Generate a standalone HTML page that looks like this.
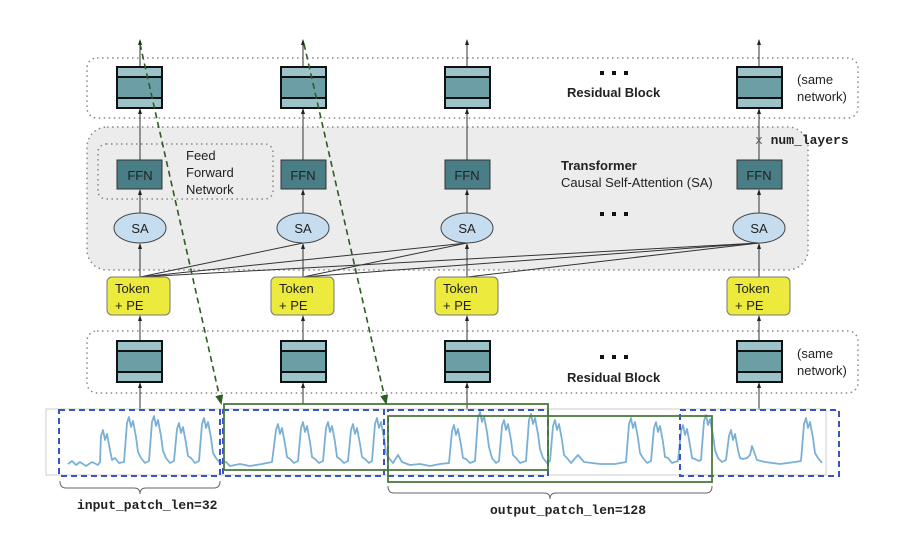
<!DOCTYPE html>
<html><head><meta charset="utf-8"><style>
html,body{margin:0;padding:0;background:#fff;}
svg{display:block;font-family:"Liberation Sans",sans-serif;}
.mono{font-family:"Liberation Mono",monospace;font-weight:bold;}
</style></head><body>
<svg width="911" height="559" viewBox="0 0 911 559" xmlns="http://www.w3.org/2000/svg">
<defs>
<marker id="a" markerUnits="userSpaceOnUse" markerWidth="6" markerHeight="6" refX="5" refY="3" orient="auto"><path d="M0,1 L6,3 L0,5 z" fill="#222"/></marker>
<marker id="g" markerUnits="userSpaceOnUse" markerWidth="10" markerHeight="10" refX="8" refY="5" orient="auto"><path d="M0,1 L10,5 L0,9 z" fill="#2e5e22"/></marker>
<g id="blk">
<rect x="0" y="0" width="45" height="41" fill="#6c9ea5" stroke="#111" stroke-width="2"/>
<rect x="1" y="1" width="43" height="9" fill="#9cc3c7"/>
<rect x="1" y="31" width="43" height="9" fill="#9cc3c7"/>
<line x1="0" y1="10" x2="45" y2="10" stroke="#111" stroke-width="2"/>
<line x1="0" y1="31" x2="45" y2="31" stroke="#111" stroke-width="2"/>
</g>
</defs>

<rect x="87" y="58" width="771" height="60" rx="10" fill="none" stroke="#888" stroke-width="1.5" stroke-dasharray="1.5,3.5"/>
<rect x="87" y="127" width="721" height="143" rx="20" fill="#ececec" stroke="#888" stroke-width="1.5" stroke-dasharray="1.5,3.5"/>
<rect x="98" y="144" width="175" height="55" rx="8" fill="none" stroke="#888" stroke-width="1.5" stroke-dasharray="1.5,3.5"/>
<rect x="87" y="331" width="771" height="62" rx="10" fill="none" stroke="#888" stroke-width="1.5" stroke-dasharray="1.5,3.5"/>

<g stroke="#333" stroke-width="1" fill="none">
<line x1="140" y1="277" x2="303" y2="243"/>
<line x1="140" y1="277" x2="467" y2="243"/>
<line x1="140" y1="277" x2="759" y2="243"/>
<line x1="303" y1="277" x2="467" y2="243"/>
<line x1="303" y1="277" x2="759" y2="243"/>
<line x1="467" y1="277" x2="759" y2="243"/>
</g>

<g stroke="#333" stroke-width="1" marker-end="url(#a)">
<line x1="140" y1="67" x2="140" y2="40"/><line x1="303" y1="67" x2="303" y2="40"/><line x1="467" y1="67" x2="467" y2="40"/><line x1="759" y1="67" x2="759" y2="40"/>
<line x1="140" y1="160" x2="140" y2="109"/><line x1="303" y1="160" x2="303" y2="109"/><line x1="467" y1="160" x2="467" y2="109"/><line x1="759" y1="160" x2="759" y2="109"/>
<line x1="140" y1="213" x2="140" y2="190"/><line x1="303" y1="213" x2="303" y2="190"/><line x1="467" y1="213" x2="467" y2="190"/><line x1="759" y1="213" x2="759" y2="190"/>
<line x1="140" y1="277" x2="140" y2="244"/><line x1="303" y1="277" x2="303" y2="244"/><line x1="467" y1="277" x2="467" y2="244"/><line x1="759" y1="277" x2="759" y2="244"/>
<line x1="140" y1="341" x2="140" y2="316"/><line x1="303" y1="341" x2="303" y2="316"/><line x1="467" y1="341" x2="467" y2="316"/><line x1="759" y1="341" x2="759" y2="316"/>
<line x1="140" y1="409" x2="140" y2="383"/><line x1="303" y1="404" x2="303" y2="383"/><line x1="467" y1="410" x2="467" y2="383"/><line x1="759" y1="410" x2="759" y2="383"/>
</g>

<use href="#blk" x="117" y="67"/><use href="#blk" x="281" y="67"/><use href="#blk" x="445" y="67"/><use href="#blk" x="737" y="67"/>
<use href="#blk" x="117" y="341"/><use href="#blk" x="281" y="341"/><use href="#blk" x="445" y="341"/><use href="#blk" x="737" y="341"/>

<g font-size="13" fill="#222" text-anchor="middle">
<rect x="117" y="160" width="45" height="29" fill="#4a7e87" stroke="#333"/><text x="140" y="180">FFN</text>
<rect x="281" y="160" width="45" height="29" fill="#4a7e87" stroke="#333"/><text x="303" y="180">FFN</text>
<rect x="445" y="160" width="45" height="29" fill="#4a7e87" stroke="#333"/><text x="467" y="180">FFN</text>
<rect x="737" y="160" width="45" height="29" fill="#4a7e87" stroke="#333"/><text x="759" y="180">FFN</text>
<ellipse cx="140" cy="228" rx="26" ry="15" fill="#c6dcef" stroke="#444"/><text x="140" y="233">SA</text>
<ellipse cx="303" cy="228" rx="26" ry="15" fill="#c6dcef" stroke="#444"/><text x="303" y="233">SA</text>
<ellipse cx="467" cy="228" rx="26" ry="15" fill="#c6dcef" stroke="#444"/><text x="467" y="233">SA</text>
<ellipse cx="759" cy="228" rx="26" ry="15" fill="#c6dcef" stroke="#444"/><text x="759" y="233">SA</text>
</g>
<g font-size="13" fill="#222">
<rect x="107" y="277" width="63" height="38" rx="5" fill="#ecea3c" stroke="#777"/><text x="115" y="293">Token</text><text x="115" y="310">+ PE</text>
<rect x="271" y="277" width="63" height="38" rx="5" fill="#ecea3c" stroke="#777"/><text x="279" y="293">Token</text><text x="279" y="310">+ PE</text>
<rect x="435" y="277" width="63" height="38" rx="5" fill="#ecea3c" stroke="#777"/><text x="443" y="293">Token</text><text x="443" y="310">+ PE</text>
<rect x="727" y="277" width="63" height="38" rx="5" fill="#ecea3c" stroke="#777"/><text x="735" y="293">Token</text><text x="735" y="310">+ PE</text>
</g>

<g font-size="13" fill="#222">
<text x="186" y="160">Feed</text><text x="186" y="177">Forward</text><text x="186" y="194">Network</text>
<text x="561" y="170" font-weight="bold">Transformer</text>
<text x="561" y="187">Causal Self-Attention (SA)</text>
<text x="567" y="97" font-weight="bold">Residual Block</text>
<text x="567" y="382" font-weight="bold">Residual Block</text>
<text x="797" y="84">(same</text><text x="797" y="101">network)</text>
<text x="797" y="358">(same</text><text x="797" y="375">network)</text>
<text x="755" y="144" font-size="13"><tspan font-family="Liberation Mono" fill="#666">x </tspan><tspan class="mono">num_layers</tspan></text>
</g>
<g fill="#111">
<rect x="600" y="71" width="4" height="4"/><rect x="612" y="71" width="4" height="4"/><rect x="624" y="71" width="4" height="4"/>
<rect x="600" y="212" width="4" height="4"/><rect x="612" y="212" width="4" height="4"/><rect x="624" y="212" width="4" height="4"/>
<rect x="600" y="355" width="4" height="4"/><rect x="612" y="355" width="4" height="4"/><rect x="624" y="355" width="4" height="4"/>
</g>

<rect x="46" y="409" width="780" height="66" fill="none" stroke="#ccc"/>
<path fill="none" stroke="#7ab0d6" stroke-width="1.8" stroke-linejoin="round" d="M68,464 L72,461 L76,465 L80,462 L86,466 L92,462 L98,465 L100,462
L101,436 L103,430 L105,440 L107,434 L110,450 L112,460 L115,458 L119,463 L124,462
L127,423 L129,417 L131,427 L133,421 L136,437 L138,452 L141,458 L145,463 L149,461
L152,422 L154,416 L156,426 L158,420 L161,436 L163,451 L166,458 L170,463 L174,461
L177,429 L179,423 L181,433 L183,427 L186,443 L188,456 L191,458 L195,463 L199,461
L202,424 L204,418 L206,428 L208,422 L211,438 L213,453 L216,458 L220,463
L226,462 L230,466 L240,464 L250,466 L262,464 L272,462
L276,430 L278,424 L280,434 L282,428 L285,444 L287,457 L290,459 L294,463 L298,461
L301,428 L303,422 L305,432 L307,426 L310,442 L312,457 L315,459 L319,463 L323,461
L326,428 L328,422 L330,432 L332,426 L335,442 L337,457 L340,459 L344,463 L348,461
L351,430 L353,424 L355,434 L357,428 L360,444 L362,457 L365,459 L369,463 L372,461
L375,424 L377,418 L379,428 L381,422 L384,438 L386,453 L389,458 L393,463
L398,455 L402,462 L410,465 L420,464 L430,466 L440,464 L449,463
L452,431 L454,425 L456,435 L458,429 L461,445 L463,458 L466,459 L470,463 L475,461
L478,418 L480,412 L482,422 L484,416 L487,432 L489,447 L492,458 L496,463 L499,461
L502,426 L504,420 L506,430 L508,424 L511,440 L513,455 L516,458 L520,463 L526,461
L529,420 L531,414 L533,424 L535,418 L538,434 L540,449 L543,458 L547,463 L550,461
L553,426 L555,420 L557,430 L559,424 L562,440 L564,455 L567,458 L571,463
L578,455 L584,462 L600,464 L615,464 L626,462
L629,424 L631,418 L633,428 L635,422 L638,438 L640,453 L643,458 L647,463 L651,461
L654,428 L656,422 L658,432 L660,426 L663,442 L665,457 L668,458 L672,463 L678,461
L681,431 L683,425 L685,435 L687,429 L690,445 L692,458 L695,459 L699,461 L701,460
L704,421 L706,415 L708,425 L710,419 L713,435 L715,450 L718,458 L722,462 L726,460
L729,436 L731,430 L733,440 L735,434 L738,450 L740,458 L743,459 L747,458 L750,455 L752,446 L757,460 L765,462 L780,464 L795,462 L801,461
L804,424 L806,418 L808,428 L810,422 L813,438 L815,453 L818,458 L822,463"/>

<g fill="none" stroke="#3a54c4" stroke-width="2" stroke-dasharray="6,4">
<rect x="59" y="410" width="161" height="66"/>
<rect x="223" y="410" width="161" height="66"/>
<rect x="388" y="410" width="160" height="66"/>
<rect x="680" y="410" width="159" height="66"/>
</g>
<g fill="none" stroke="#4a7a3c" stroke-width="1.8">
<rect x="224" y="404" width="324" height="66"/>
<rect x="388" y="416" width="324" height="66"/>
</g>
<g stroke="#2e5e22" stroke-width="1.6" stroke-dasharray="6,4" marker-end="url(#g)">
<line x1="140" y1="44" x2="221" y2="403"/>
<line x1="304" y1="44" x2="386" y2="403"/>
</g>

<g fill="none" stroke="#666" stroke-width="1">
<path d="M60,481 Q60,488 66,488 L134,488 Q140,488 140,494 Q140,488 146,488 L214,488 Q220,488 220,481"/>
<path d="M388,486 Q388,493 394,493 L544,493 Q550,493 550,499 Q550,493 556,493 L706,493 Q712,493 712,486"/>
</g>
<text x="77" y="509" font-size="13" class="mono" fill="#222">input_patch_len=32</text>
<text x="490" y="514" font-size="13" class="mono" fill="#222">output_patch_len=128</text>
</svg>
</body></html>
